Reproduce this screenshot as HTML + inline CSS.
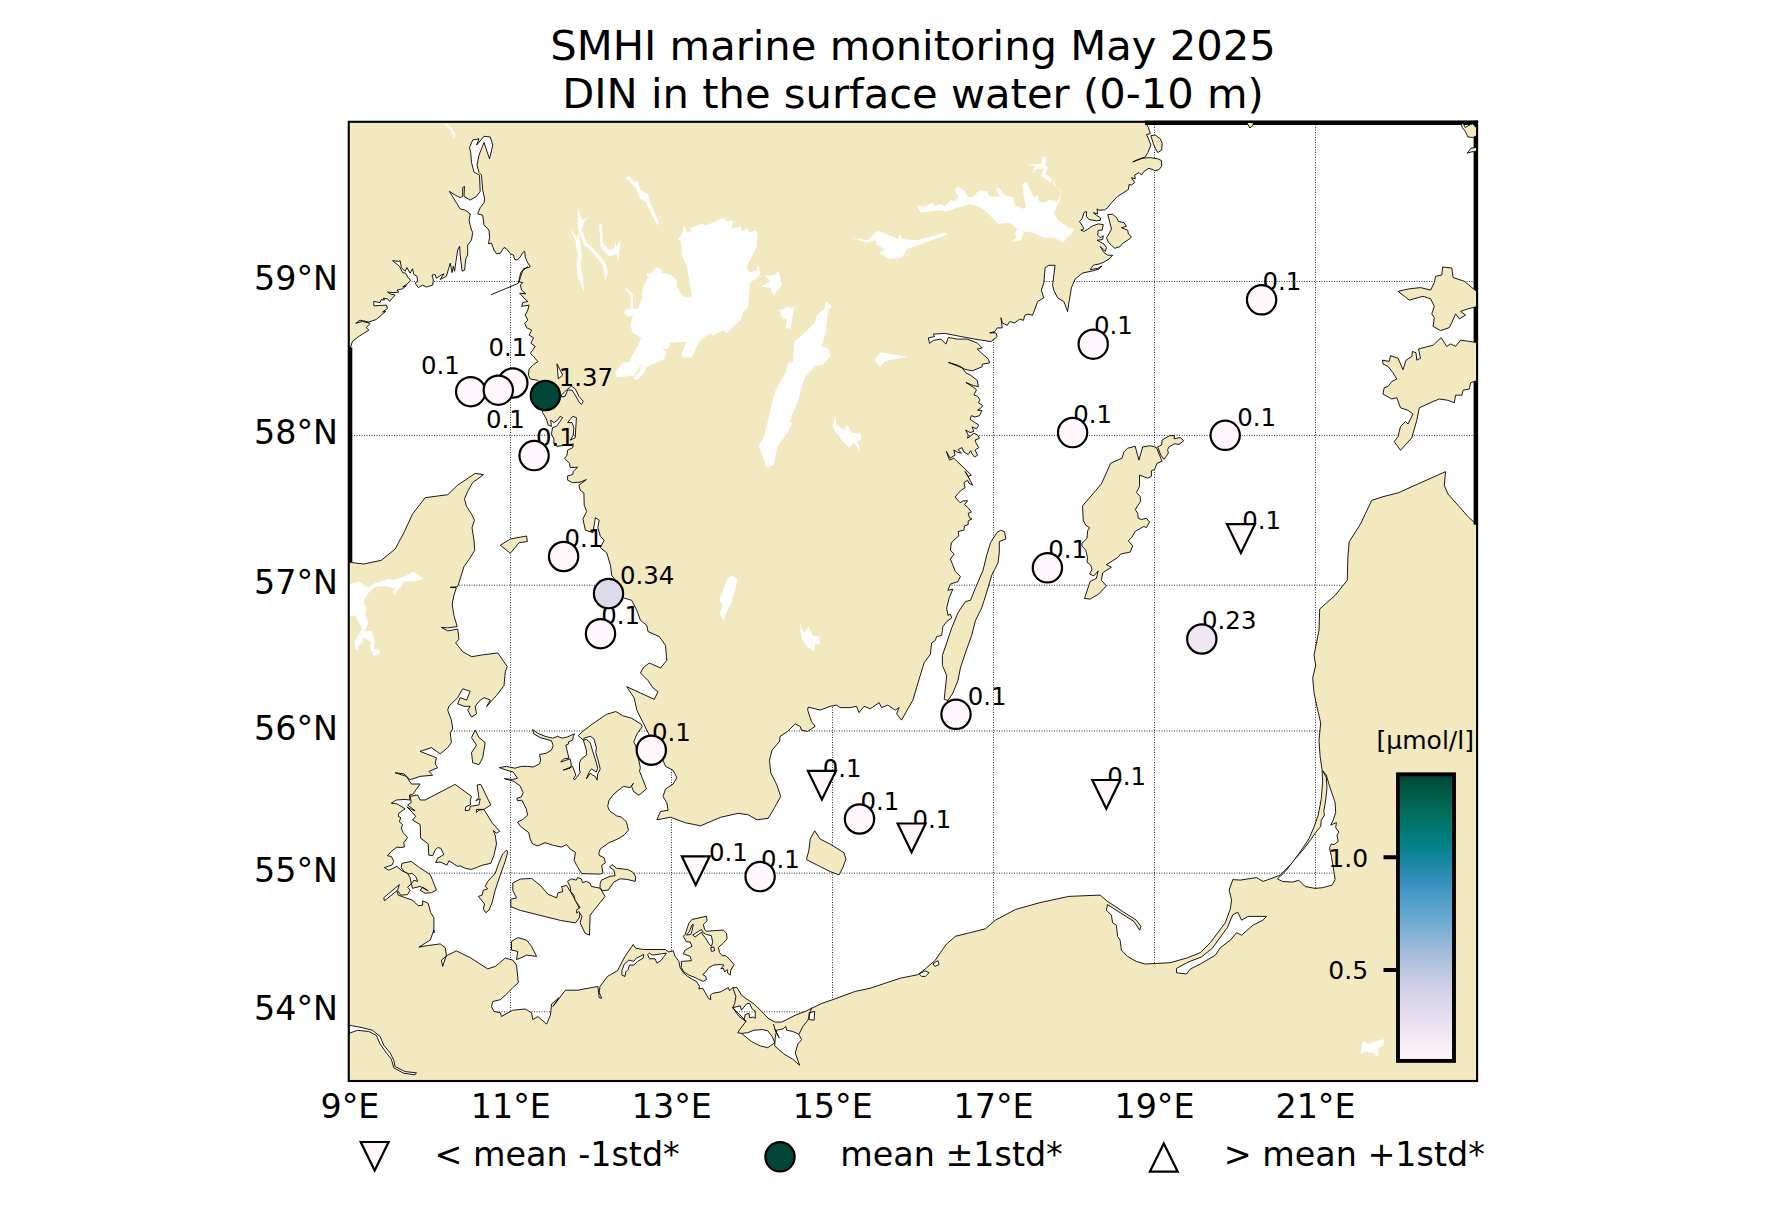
<!DOCTYPE html>
<html><head><meta charset="utf-8"><title>SMHI marine monitoring May 2025 - DIN in the surface water</title>
<style>
html,body{margin:0;padding:0;background:#fff;}
body{width:1773px;height:1227px;position:relative;overflow:hidden;font-family:"DejaVu Sans","Liberation Sans",sans-serif;}
svg text{font-family:"DejaVu Sans","Liberation Sans",sans-serif;fill:#000;}
</style></head><body>
<svg width="1773" height="1227" viewBox="0 0 1773 1227" style="position:absolute;left:0;top:0">
<defs>
<clipPath id="ax"><rect x="347" y="120" width="1131" height="962"/></clipPath>
<clipPath id="seaclip"><path d="M350.6 347.1 L352.5 341.4 L358.8 336.4 L363.8 333.3 L368.8 330.2 L366.3 327.7 L370.1 323.3 L362.5 321.4 L355.7 323.3 L360.0 320.2 L368.8 322.0 L376.3 319.5 L382.6 313.9 L385.7 311.4 L382.6 312.0 L387.6 308.3 L386.3 305.1 L373.8 305.8 L373.8 301.4 L380.1 302.6 L381.3 299.5 L384.5 300.1 L383.2 298.2 L387.6 298.9 L389.5 301.4 L395.1 295.1 L390.1 293.9 L387.6 292.0 L393.8 292.6 L398.8 292.0 L397.0 290.1 L402.6 288.8 L406.4 285.7 L402.6 287.0 L408.2 283.2 L410.7 280.1 L408.2 277.6 L405.7 273.2 L402.6 272.6 L399.5 266.3 L392.6 260.7 L398.8 261.3 L400.1 260.7 L401.4 267.6 L405.1 271.3 L407.0 267.6 L410.1 273.2 L412.6 268.8 L413.9 274.5 L417.0 276.3 L417.6 281.3 L415.1 283.2 L418.3 287.6 L422.6 285.1 L426.4 287.0 L432.7 285.1 L433.3 280.1 L432.0 275.1 L435.2 274.5 L436.4 278.2 L440.2 275.7 L443.9 273.8 L440.2 279.5 L446.4 276.3 L448.9 267.6 L450.2 263.2 L452.1 272.6 L453.3 266.3 L454.6 271.3 L455.8 262.6 L457.7 250.0 L459.6 246.3 L460.2 255.0 L462.1 271.3 L464.6 270.1 L465.8 258.8 L467.7 255.0 L467.7 245.0 L471.5 240.0 L472.7 232.5 L471.5 230.0 L470.2 225.2 L469.0 220.2 L470.2 213.9 L465.2 210.2 L460.2 208.9 L449.4 191.4 L455.2 195.1 L460.2 197.6 L462.7 196.4 L462.7 187.6 L464.5 186.4 L464.0 196.4 L470.2 200.1 L476.5 196.4 L480.2 191.4 L479.5 175.1 L474.0 172.1 L471.5 162.6 L470.7 152.6 L469.5 147.6 L472.7 140.0 L479.0 138.8 L476.5 145.1 L484.0 136.3 L490.3 137.0 L492.8 145.1 L489.5 158.8 L484.0 142.5 L479.0 155.1 L477.0 165.1 L479.0 172.6 L481.5 175.1 L482.7 190.1 L484.7 198.9 L484.0 202.6 L480.2 207.7 L477.7 213.9 L482.7 215.2 L484.0 225.2 L489.0 230.0 L489.6 237.5 L488.4 243.8 L491.5 243.1 L494.0 250.0 L496.5 253.8 L500.3 253.2 L504.0 247.5 L506.5 248.8 L510.3 253.8 L513.4 255.0 L514.7 259.4 L517.2 260.1 L520.3 256.9 L522.8 252.5 L524.7 251.3 L525.3 256.9 L527.2 261.9 L530.3 266.9 L523.4 268.8 L520.3 277.6 L519.1 282.0 L522.8 282.6 L520.3 285.1 L521.6 290.1 L525.9 293.9 L519.7 293.2 L524.1 298.2 L527.8 301.4 L522.8 302.6 L521.6 306.4 L529.1 305.1 L527.8 310.1 L525.3 315.1 L527.8 320.2 L524.7 323.3 L526.6 327.7 L531.6 330.2 L529.1 335.2 L533.5 337.7 L530.9 343.3 L535.3 346.4 L530.3 353.3 L533.5 356.5 L537.8 361.5 L532.8 365.2 L529.1 369.0 L528.4 375.2 L530.3 379.0 L537.6 380.3 L540.1 382.6 L542.6 412.6 L546.4 418.9 L548.2 425.1 L551.4 426.4 L550.7 420.1 L553.9 422.6 L557.6 420.1 L560.1 416.4 L562.6 417.6 L560.1 421.4 L556.4 426.4 L552.6 427.6 L551.4 433.9 L553.9 438.9 L553.9 443.9 L557.0 446.4 L565.1 445.2 L573.3 443.9 L572.7 447.7 L567.6 450.2 L567.0 455.2 L564.5 458.3 L569.5 463.3 L570.2 467.7 L577.7 467.1 L573.3 471.5 L572.7 474.6 L567.6 475.9 L567.6 480.2 L572.7 482.7 L580.2 482.1 L586.4 479.6 L578.9 485.2 L580.2 490.3 L583.9 493.0 L584.2 505.2 L586.7 511.4 L582.9 519.0 L585.4 530.2 L592.9 532.7 L595.4 517.7 L599.2 520.2 L597.9 527.7 L600.4 536.5 L604.2 540.2 L600.4 547.7 L606.7 552.8 L610.5 565.3 L611.7 575.3 L615.5 580.3 L623.0 597.8 L631.7 600.3 L636.8 610.4 L640.5 620.4 L646.8 625.4 L648.0 631.6 L659.3 636.6 L665.5 645.4 L666.8 660.4 L660.5 668.0 L649.3 662.9 L643.0 668.0 L640.5 673.0 L648.0 680.5 L653.0 688.0 L658.0 691.7 L654.3 699.3 L640.5 693.0 L626.7 686.7 L634.2 698.0 L636.8 710.1 L643.0 722.6 L648.0 732.6 L663.0 760.2 L665.5 766.4 L673.1 770.2 L676.8 777.7 L673.1 784.0 L665.5 789.0 L663.0 796.5 L666.8 802.7 L668.1 810.3 L660.5 811.5 L656.8 819.8 L670.6 817.3 L685.6 822.8 L700.6 825.8 L720.6 817.3 L738.2 813.3 L748.2 814.8 L757.0 819.8 L768.2 818.3 L774.5 807.7 L780.7 796.5 L777.0 785.2 L770.7 772.7 L769.5 760.2 L772.0 750.2 L779.5 741.4 L780.1 736.4 L787.6 731.4 L795.2 723.9 L800.2 726.4 L801.4 730.1 L807.7 731.4 L815.2 726.4 L811.4 721.4 L807.7 710.1 L808.2 707.1 L815.2 708.8 L820.2 710.1 L830.2 706.3 L836.5 705.1 L840.2 707.6 L850.3 707.6 L856.5 706.3 L859.0 712.6 L864.0 706.3 L870.3 708.8 L879.1 702.6 L881.6 707.6 L887.8 705.1 L895.3 710.1 L899.1 707.6 L896.6 713.8 L901.6 720.1 L907.9 708.8 L912.9 700.1 L916.6 687.5 L920.4 675.0 L924.1 662.9 L930.4 654.2 L931.6 642.9 L935.4 640.4 L936.6 636.6 L941.7 635.4 L942.9 626.6 L946.7 621.6 L951.7 617.9 L950.4 614.1 L947.9 615.4 L946.7 607.9 L949.2 597.8 L952.9 589.1 L947.9 590.3 L950.4 584.1 L957.9 581.6 L960.4 576.5 L955.4 571.5 L952.9 565.3 L950.4 559.0 L954.2 554.0 L950.4 550.3 L951.3 543.0 L955.1 539.0 L958.8 535.9 L958.2 531.5 L963.9 530.2 L964.5 525.9 L968.2 524.6 L968.2 520.8 L972.0 519.0 L969.5 517.7 L968.2 513.3 L971.4 512.1 L968.2 507.7 L964.5 504.6 L967.6 500.8 L963.2 500.8 L960.1 502.7 L955.1 497.1 L957.6 493.9 L961.4 490.2 L965.1 487.7 L963.9 482.7 L967.6 480.2 L968.9 483.3 L972.6 485.2 L970.1 480.2 L965.1 471.4 L968.2 476.4 L971.4 475.1 L968.2 472.0 L953.8 458.2 L949.5 460.1 L946.3 451.4 L950.1 458.2 L955.1 455.1 L953.8 450.1 L957.0 452.0 L961.4 453.2 L958.2 449.5 L962.0 447.6 L963.9 452.0 L968.2 454.5 L970.7 450.7 L972.0 453.9 L974.5 457.0 L977.6 455.1 L975.1 450.1 L978.9 447.6 L976.4 443.8 L975.1 440.1 L979.5 438.2 L977.6 435.1 L973.9 433.2 L970.1 436.3 L967.6 438.2 L968.2 435.1 L965.7 430.1 L970.1 432.6 L973.9 431.3 L972.0 426.9 L976.4 428.8 L978.9 425.1 L970.1 419.4 L971.4 415.7 L975.1 416.9 L979.5 415.7 L982.0 410.7 L977.6 410.0 L980.1 408.8 L982.6 405.7 L978.3 402.5 L980.1 400.0 L977.6 396.3 L973.9 395.0 L976.4 390.0 L974.7 388.0 L965.9 382.5 L973.4 385.5 L978.4 386.7 L977.2 380.4 L970.9 375.4 L965.9 372.9 L962.1 367.9 L948.4 362.4 L958.4 365.4 L964.6 369.2 L972.2 370.9 L982.2 366.7 L982.2 364.2 L989.7 362.9 L988.4 359.2 L977.2 349.1 L982.2 347.9 L977.2 342.9 L967.1 339.1 L957.1 339.1 L948.4 337.4 L945.9 344.1 L940.9 339.1 L933.3 340.4 L929.6 343.4 L928.3 337.9 L934.6 336.6 L933.3 334.1 L944.6 333.4 L974.7 339.1 L990.9 341.6 L997.2 336.6 L995.9 332.9 L989.7 332.9 L994.7 331.6 L997.2 327.9 L1002.2 327.9 L1001.0 317.8 L1002.2 322.9 L1007.2 325.4 L1009.7 321.6 L1014.7 322.9 L1019.7 319.1 L1023.5 320.3 L1024.7 315.3 L1028.0 314.1 L1032.6 315.3 L1037.6 301.6 L1043.8 297.8 L1041.3 290.3 L1043.8 282.8 L1045.1 267.8 L1048.8 265.3 L1055.1 265.3 L1053.8 275.3 L1052.6 285.3 L1053.8 290.3 L1057.6 297.8 L1063.9 301.6 L1067.6 311.6 L1068.9 302.8 L1071.4 287.8 L1075.1 279.0 L1082.7 273.0 L1092.7 270.9 L1099.0 269.0 L1102.1 265.9 L1097.7 268.4 L1090.2 269.6 L1093.3 265.2 L1099.0 264.0 L1104.0 262.1 L1109.0 259.0 L1112.7 255.2 L1107.7 255.2 L1104.0 252.7 L1100.2 246.5 L1105.2 251.5 L1106.5 247.7 L1104.0 244.0 L1097.1 240.2 L1102.7 239.6 L1103.3 235.8 L1100.2 237.7 L1097.7 235.2 L1098.3 230.2 L1102.1 230.2 L1103.3 224.6 L1098.3 223.9 L1092.7 225.8 L1087.1 229.6 L1083.9 231.4 L1080.8 230.2 L1083.9 228.9 L1082.7 226.4 L1079.5 221.4 L1082.0 218.9 L1083.9 212.7 L1086.4 211.4 L1086.4 216.4 L1088.9 219.5 L1096.4 220.8 L1100.8 220.2 L1100.2 217.7 L1096.4 215.2 L1093.3 212.7 L1097.7 213.9 L1097.1 208.9 L1099.0 210.2 L1104.6 209.9 L1107.7 207.6 L1111.5 202.6 L1117.7 196.4 L1128.4 189.5 L1129.0 184.5 L1131.5 185.1 L1134.6 182.6 L1131.5 177.6 L1135.3 178.8 L1134.6 175.1 L1139.0 172.6 L1141.5 175.1 L1144.0 171.3 L1149.0 168.2 L1155.3 170.7 L1159.1 169.5 L1161.6 166.3 L1161.6 160.7 L1157.8 158.8 L1150.3 157.6 L1142.8 158.2 L1132.8 161.9 L1136.5 160.1 L1145.3 156.9 L1147.8 152.6 L1150.9 145.0 L1149.0 140.0 L1146.5 134.4 L1150.3 133.8 L1148.4 127.5 L1145.3 122.5 L1477.0 122.0 L1477.0 525.0 L1468.1 516.7 L1458.1 505.4 L1448.1 494.2 L1444.3 485.4 L1445.6 471.6 L1398.0 492.9 L1383.0 496.7 L1371.7 500.4 L1360.4 524.2 L1349.2 541.7 L1347.9 557.0 L1347.3 580.2 L1335.3 595.2 L1319.7 609.0 L1319.0 630.3 L1314.0 655.3 L1315.7 665.3 L1312.7 677.8 L1314.0 692.9 L1317.2 707.9 L1320.7 722.9 L1319.0 740.4 L1320.1 756.3 L1322.0 769.4 L1322.6 781.3 L1321.3 798.8 L1318.2 815.1 L1313.8 827.6 L1308.8 838.9 L1301.3 850.2 L1292.5 862.7 L1280.0 875.2 L1270.0 879.0 L1262.9 881.4 L1256.6 877.6 L1240.3 880.1 L1232.8 879.6 L1229.1 890.1 L1231.6 900.1 L1230.3 908.9 L1225.3 922.7 L1217.8 932.7 L1210.3 942.7 L1200.3 952.7 L1187.7 957.7 L1170.2 962.7 L1155.2 963.5 L1145.2 964.0 L1136.4 961.5 L1127.6 956.5 L1121.4 950.2 L1120.1 940.2 L1117.6 936.4 L1116.4 925.2 L1112.6 922.7 L1111.4 915.2 L1106.4 910.2 L1107.6 904.6 L1120.1 912.7 L1133.9 921.4 L1139.7 930.2 L1140.9 926.4 L1136.4 920.2 L1122.6 911.4 L1107.6 901.4 L1100.1 895.1 L1068.8 896.4 L1040.0 902.6 L1015.5 909.5 L995.5 920.1 L985.4 928.8 L970.4 932.6 L955.4 936.3 L946.6 943.9 L940.4 952.6 L935.4 960.1 L925.3 968.9 L917.8 974.7 L900.3 978.2 L870.3 988.2 L855.2 991.4 L832.7 999.7 L822.0 1003.3 L812.9 1007.7 L805.3 1011.4 L795.3 1015.2 L787.8 1019.0 L781.6 1022.1 L775.3 1022.1 L769.0 1019.0 L761.5 1011.4 L754.0 1003.9 L746.5 998.9 L741.5 995.2 L737.1 987.6 L732.7 987.6 L729.6 990.8 L728.3 987.6 L720.2 992.0 L712.7 993.3 L710.2 995.2 L710.8 999.5 L708.9 998.9 L705.2 992.7 L702.7 988.3 L698.9 988.9 L699.5 986.4 L696.4 981.4 L692.7 979.5 L687.6 976.4 L683.3 972.6 L680.1 967.6 L678.9 961.4 L675.1 956.3 L673.2 950.7 L668.9 952.0 L665.1 949.5 L643.8 949.5 L635.7 948.2 L633.2 944.5 L625.0 956.3 L617.5 970.7 L607.5 976.4 L600.0 986.4 L599.2 992.7 L601.7 998.2 L599.2 997.7 L597.9 986.4 L577.9 990.2 L565.4 990.2 L552.9 1006.5 L559.1 997.7 L551.6 1004.0 L550.4 1015.2 L546.6 1024.0 L537.8 1016.5 L532.8 1019.7 L531.6 1012.7 L525.3 1009.0 L512.8 1010.2 L501.5 1016.5 L500.3 1012.7 L494.0 1011.5 L491.5 1006.5 L492.8 1001.5 L500.3 999.7 L505.3 995.2 L512.8 987.7 L518.3 982.7 L516.5 965.1 L512.8 960.1 L505.3 958.1 L495.3 966.4 L487.7 968.9 L470.2 957.6 L456.4 950.9 L447.7 955.1 L441.4 960.1 L442.7 966.4 L446.4 955.1 L445.2 947.6 L440.2 943.9 L427.6 945.6 L418.9 947.1 L430.2 940.1 L433.9 930.1 L433.9 933.0 L433.9 917.7 L430.7 912.7 L428.2 903.3 L422.6 900.8 L422.6 905.2 L418.2 905.8 L412.6 900.2 L398.2 895.2 L396.9 890.8 L384.4 900.8 L383.8 897.7 L399.4 884.6 L397.5 890.2 L400.7 895.2 L407.6 894.6 L410.1 890.2 L407.6 887.1 L411.3 883.9 L410.1 877.7 L407.6 873.3 L401.9 870.8 L396.9 866.4 L388.8 870.2 L384.4 867.6 L391.9 865.1 L393.8 861.4 L391.3 856.4 L387.5 855.8 L390.7 852.0 L396.9 847.0 L400.1 847.6 L404.4 847.0 L403.8 842.6 L407.6 837.6 L403.2 832.6 L401.3 828.2 L402.6 824.5 L399.4 821.9 L400.7 817.6 L398.2 816.3 L398.8 813.2 L405.1 808.8 L396.9 803.8 L391.3 803.2 L396.3 800.0 L405.1 799.4 L410.1 800.0 L409.4 795.0 L412.6 794.4 L414.5 791.9 L420.1 784.0 L411.4 784.0 L406.4 776.4 L395.1 772.7 L403.9 773.9 L410.1 779.7 L420.1 776.4 L432.7 775.2 L428.9 771.4 L437.7 767.7 L435.2 763.9 L436.4 757.7 L426.4 753.9 L420.1 751.4 L431.4 747.6 L440.2 753.9 L447.7 747.6 L451.4 742.6 L450.2 732.6 L452.7 728.9 L451.4 720.1 L447.7 710.1 L448.9 706.3 L457.7 697.6 L462.7 688.8 L470.2 691.3 L466.5 700.1 L460.2 697.6 L457.7 703.8 L464.0 706.3 L470.2 706.3 L467.7 710.1 L471.5 717.1 L476.5 713.8 L475.2 706.3 L479.0 701.3 L484.0 697.6 L490.3 700.1 L486.5 706.6 L496.5 695.5 L504.0 685.5 L505.3 671.7 L507.3 666.7 L497.8 652.9 L482.7 654.9 L471.5 656.7 L462.7 651.7 L455.7 642.9 L459.0 639.2 L457.7 629.1 L447.7 630.9 L441.4 627.4 L447.7 627.9 L457.2 626.6 L453.9 615.4 L452.2 604.1 L453.9 595.3 L456.4 587.8 L450.2 587.3 L457.7 586.6 L464.0 566.5 L470.2 557.8 L474.7 550.3 L474.0 540.2 L472.0 527.7 L474.5 520.2 L471.5 513.9 L466.5 506.4 L464.5 498.9 L467.7 491.4 L472.7 482.6 L483.5 474.6 L475.2 473.4 L457.7 485.1 L447.7 494.7 L425.1 497.7 L412.6 513.9 L403.9 532.7 L395.1 549.0 L381.3 560.3 L363.8 564.0 L349.5 562.3Z"/>
<path d="M349.0 1025.2 L362.5 1027.7 L372.6 1030.3 L380.1 1036.5 L383.8 1045.3 L390.1 1052.8 L393.8 1060.3 L395.1 1066.6 L405.1 1071.6 L416.4 1072.8 L415.1 1074.8 L403.9 1073.3 L393.8 1067.8 L391.3 1059.1 L386.3 1052.8 L380.1 1044.0 L376.3 1035.3 L368.8 1031.5 L357.5 1030.3 L349.0 1033.3Z"/>
<path d="M919.1 973.9 L925.3 970.9 L929.1 972.7 L925.3 976.4 L921.6 976.4Z"/>
<path d="M932.9 963.9 L937.9 960.6 L939.1 964.6 L934.9 966.4Z"/>
<path d="M1176.5 968.3 L1189.0 961.7 L1201.5 957.0 L1212.3 948.2 L1227.3 927.7 L1232.8 914.7 L1237.8 912.2 L1241.6 920.2 L1247.9 916.4 L1266.6 916.4 L1262.9 920.2 L1252.9 925.2 L1241.6 935.2 L1236.6 932.7 L1230.3 940.2 L1220.3 947.7 L1215.3 955.2 L1200.3 964.0 L1190.3 969.0 L1186.5 974.0 L1176.5 972.8Z"/>
<path d="M1322.6 770.7 L1326.3 775.1 L1328.8 783.8 L1335.1 802.6 L1335.7 812.6 L1333.2 820.1 L1330.7 825.1 L1336.4 822.6 L1335.7 827.6 L1338.9 832.0 L1337.0 835.2 L1338.2 841.4 L1333.9 844.6 L1331.4 843.9 L1329.5 847.7 L1331.4 856.4 L1333.9 871.5 L1335.1 879.6 L1332.0 885.2 L1322.6 887.7 L1315.1 888.4 L1305.1 886.5 L1298.8 880.2 L1292.5 882.1 L1282.5 881.5 L1277.5 879.0 L1286.3 870.2 L1295.0 859.0 L1303.8 848.9 L1311.3 838.9 L1315.1 833.3 L1320.7 826.4 L1321.3 820.1 L1324.5 815.1 L1323.8 811.4 L1325.7 800.1 L1327.0 787.6 L1326.3 777.6Z"/>
<path d="M561.4 395.1 L566.4 390.1 L571.4 386.3 L575.2 388.8 L578.9 396.3 L583.3 401.4 L581.4 404.5 L579.5 402.6 L575.2 395.1 L572.0 390.1 L567.6 390.1 L565.1 396.3 L561.4 397.0Z"/>
<path d="M557.0 363.8 L562.6 375.1 L558.3 378.8Z"/>
<path d="M572.7 416.4 L576.4 417.6 L575.8 427.6 L575.2 437.7 L570.2 440.2 L573.3 435.2 L573.9 427.6 L572.0 422.6 L567.6 422.6Z"/>
<path d="M621.9 970.7 L624.4 963.9 L628.8 960.1 L633.8 961.4 L636.3 958.2 L643.8 954.5 L643.2 958.2 L637.6 961.4 L633.8 965.1 L629.4 965.1 L628.2 969.5 L625.7 972.0 L625.0 976.4 L621.9 975.1Z"/>
<path d="M647.6 954.5 L649.5 953.2 L652.6 955.1 L661.4 953.8 L666.4 953.2 L661.4 960.1 L657.0 963.2 L655.1 958.8 L649.5 958.8Z"/>
<path d="M732.7 1007.7 L740.2 1005.8 L741.5 1010.2 L746.5 1003.9 L749.6 1003.3 L752.1 1008.9 L755.3 1011.4 L755.3 1018.3 L753.4 1017.1 L749.6 1017.7 L749.0 1013.3 L745.2 1014.6 L744.0 1019.0 L745.9 1021.5 L742.7 1017.7Z"/>
<path d="M741.5 1033.4 L747.7 1032.7 L754.0 1030.2 L762.8 1029.6 L767.8 1030.8 L772.2 1036.5 L774.7 1042.7 L767.8 1047.7 L760.3 1045.9 L751.5 1041.5Z"/>
<path d="M776.5 1030.2 L782.8 1029.0 L785.9 1026.5 L786.6 1030.2 L792.8 1031.5 L798.5 1034.0 L801.6 1039.6 L797.8 1044.0 L795.3 1053.0 L799.6 1065.3 L792.6 1059.1 L783.9 1054.0 L774.7 1045.9 L775.3 1037.7Z"/>
<path d="M809.1 1012.7 L814.7 1011.4 L814.1 1020.2 L809.1 1019.6Z"/>
</clipPath>
<linearGradient id="cb" x1="0" y1="1" x2="0" y2="0">
<stop offset="0.0000" stop-color="#fff7fb"/>
<stop offset="0.1250" stop-color="#ece2f0"/>
<stop offset="0.2500" stop-color="#d0d1e6"/>
<stop offset="0.3750" stop-color="#a6bddb"/>
<stop offset="0.5000" stop-color="#67a9cf"/>
<stop offset="0.6250" stop-color="#3690c0"/>
<stop offset="0.7500" stop-color="#02818a"/>
<stop offset="0.8750" stop-color="#016c59"/>
<stop offset="1.0000" stop-color="#014636"/>
</linearGradient>
</defs>
<rect x="349" y="122" width="1128" height="959" fill="#f3e9c1"/>
<g clip-path="url(#ax)">
<path d="M350.6 347.1 L352.5 341.4 L358.8 336.4 L363.8 333.3 L368.8 330.2 L366.3 327.7 L370.1 323.3 L362.5 321.4 L355.7 323.3 L360.0 320.2 L368.8 322.0 L376.3 319.5 L382.6 313.9 L385.7 311.4 L382.6 312.0 L387.6 308.3 L386.3 305.1 L373.8 305.8 L373.8 301.4 L380.1 302.6 L381.3 299.5 L384.5 300.1 L383.2 298.2 L387.6 298.9 L389.5 301.4 L395.1 295.1 L390.1 293.9 L387.6 292.0 L393.8 292.6 L398.8 292.0 L397.0 290.1 L402.6 288.8 L406.4 285.7 L402.6 287.0 L408.2 283.2 L410.7 280.1 L408.2 277.6 L405.7 273.2 L402.6 272.6 L399.5 266.3 L392.6 260.7 L398.8 261.3 L400.1 260.7 L401.4 267.6 L405.1 271.3 L407.0 267.6 L410.1 273.2 L412.6 268.8 L413.9 274.5 L417.0 276.3 L417.6 281.3 L415.1 283.2 L418.3 287.6 L422.6 285.1 L426.4 287.0 L432.7 285.1 L433.3 280.1 L432.0 275.1 L435.2 274.5 L436.4 278.2 L440.2 275.7 L443.9 273.8 L440.2 279.5 L446.4 276.3 L448.9 267.6 L450.2 263.2 L452.1 272.6 L453.3 266.3 L454.6 271.3 L455.8 262.6 L457.7 250.0 L459.6 246.3 L460.2 255.0 L462.1 271.3 L464.6 270.1 L465.8 258.8 L467.7 255.0 L467.7 245.0 L471.5 240.0 L472.7 232.5 L471.5 230.0 L470.2 225.2 L469.0 220.2 L470.2 213.9 L465.2 210.2 L460.2 208.9 L449.4 191.4 L455.2 195.1 L460.2 197.6 L462.7 196.4 L462.7 187.6 L464.5 186.4 L464.0 196.4 L470.2 200.1 L476.5 196.4 L480.2 191.4 L479.5 175.1 L474.0 172.1 L471.5 162.6 L470.7 152.6 L469.5 147.6 L472.7 140.0 L479.0 138.8 L476.5 145.1 L484.0 136.3 L490.3 137.0 L492.8 145.1 L489.5 158.8 L484.0 142.5 L479.0 155.1 L477.0 165.1 L479.0 172.6 L481.5 175.1 L482.7 190.1 L484.7 198.9 L484.0 202.6 L480.2 207.7 L477.7 213.9 L482.7 215.2 L484.0 225.2 L489.0 230.0 L489.6 237.5 L488.4 243.8 L491.5 243.1 L494.0 250.0 L496.5 253.8 L500.3 253.2 L504.0 247.5 L506.5 248.8 L510.3 253.8 L513.4 255.0 L514.7 259.4 L517.2 260.1 L520.3 256.9 L522.8 252.5 L524.7 251.3 L525.3 256.9 L527.2 261.9 L530.3 266.9 L523.4 268.8 L520.3 277.6 L519.1 282.0 L522.8 282.6 L520.3 285.1 L521.6 290.1 L525.9 293.9 L519.7 293.2 L524.1 298.2 L527.8 301.4 L522.8 302.6 L521.6 306.4 L529.1 305.1 L527.8 310.1 L525.3 315.1 L527.8 320.2 L524.7 323.3 L526.6 327.7 L531.6 330.2 L529.1 335.2 L533.5 337.7 L530.9 343.3 L535.3 346.4 L530.3 353.3 L533.5 356.5 L537.8 361.5 L532.8 365.2 L529.1 369.0 L528.4 375.2 L530.3 379.0 L537.6 380.3 L540.1 382.6 L542.6 412.6 L546.4 418.9 L548.2 425.1 L551.4 426.4 L550.7 420.1 L553.9 422.6 L557.6 420.1 L560.1 416.4 L562.6 417.6 L560.1 421.4 L556.4 426.4 L552.6 427.6 L551.4 433.9 L553.9 438.9 L553.9 443.9 L557.0 446.4 L565.1 445.2 L573.3 443.9 L572.7 447.7 L567.6 450.2 L567.0 455.2 L564.5 458.3 L569.5 463.3 L570.2 467.7 L577.7 467.1 L573.3 471.5 L572.7 474.6 L567.6 475.9 L567.6 480.2 L572.7 482.7 L580.2 482.1 L586.4 479.6 L578.9 485.2 L580.2 490.3 L583.9 493.0 L584.2 505.2 L586.7 511.4 L582.9 519.0 L585.4 530.2 L592.9 532.7 L595.4 517.7 L599.2 520.2 L597.9 527.7 L600.4 536.5 L604.2 540.2 L600.4 547.7 L606.7 552.8 L610.5 565.3 L611.7 575.3 L615.5 580.3 L623.0 597.8 L631.7 600.3 L636.8 610.4 L640.5 620.4 L646.8 625.4 L648.0 631.6 L659.3 636.6 L665.5 645.4 L666.8 660.4 L660.5 668.0 L649.3 662.9 L643.0 668.0 L640.5 673.0 L648.0 680.5 L653.0 688.0 L658.0 691.7 L654.3 699.3 L640.5 693.0 L626.7 686.7 L634.2 698.0 L636.8 710.1 L643.0 722.6 L648.0 732.6 L663.0 760.2 L665.5 766.4 L673.1 770.2 L676.8 777.7 L673.1 784.0 L665.5 789.0 L663.0 796.5 L666.8 802.7 L668.1 810.3 L660.5 811.5 L656.8 819.8 L670.6 817.3 L685.6 822.8 L700.6 825.8 L720.6 817.3 L738.2 813.3 L748.2 814.8 L757.0 819.8 L768.2 818.3 L774.5 807.7 L780.7 796.5 L777.0 785.2 L770.7 772.7 L769.5 760.2 L772.0 750.2 L779.5 741.4 L780.1 736.4 L787.6 731.4 L795.2 723.9 L800.2 726.4 L801.4 730.1 L807.7 731.4 L815.2 726.4 L811.4 721.4 L807.7 710.1 L808.2 707.1 L815.2 708.8 L820.2 710.1 L830.2 706.3 L836.5 705.1 L840.2 707.6 L850.3 707.6 L856.5 706.3 L859.0 712.6 L864.0 706.3 L870.3 708.8 L879.1 702.6 L881.6 707.6 L887.8 705.1 L895.3 710.1 L899.1 707.6 L896.6 713.8 L901.6 720.1 L907.9 708.8 L912.9 700.1 L916.6 687.5 L920.4 675.0 L924.1 662.9 L930.4 654.2 L931.6 642.9 L935.4 640.4 L936.6 636.6 L941.7 635.4 L942.9 626.6 L946.7 621.6 L951.7 617.9 L950.4 614.1 L947.9 615.4 L946.7 607.9 L949.2 597.8 L952.9 589.1 L947.9 590.3 L950.4 584.1 L957.9 581.6 L960.4 576.5 L955.4 571.5 L952.9 565.3 L950.4 559.0 L954.2 554.0 L950.4 550.3 L951.3 543.0 L955.1 539.0 L958.8 535.9 L958.2 531.5 L963.9 530.2 L964.5 525.9 L968.2 524.6 L968.2 520.8 L972.0 519.0 L969.5 517.7 L968.2 513.3 L971.4 512.1 L968.2 507.7 L964.5 504.6 L967.6 500.8 L963.2 500.8 L960.1 502.7 L955.1 497.1 L957.6 493.9 L961.4 490.2 L965.1 487.7 L963.9 482.7 L967.6 480.2 L968.9 483.3 L972.6 485.2 L970.1 480.2 L965.1 471.4 L968.2 476.4 L971.4 475.1 L968.2 472.0 L953.8 458.2 L949.5 460.1 L946.3 451.4 L950.1 458.2 L955.1 455.1 L953.8 450.1 L957.0 452.0 L961.4 453.2 L958.2 449.5 L962.0 447.6 L963.9 452.0 L968.2 454.5 L970.7 450.7 L972.0 453.9 L974.5 457.0 L977.6 455.1 L975.1 450.1 L978.9 447.6 L976.4 443.8 L975.1 440.1 L979.5 438.2 L977.6 435.1 L973.9 433.2 L970.1 436.3 L967.6 438.2 L968.2 435.1 L965.7 430.1 L970.1 432.6 L973.9 431.3 L972.0 426.9 L976.4 428.8 L978.9 425.1 L970.1 419.4 L971.4 415.7 L975.1 416.9 L979.5 415.7 L982.0 410.7 L977.6 410.0 L980.1 408.8 L982.6 405.7 L978.3 402.5 L980.1 400.0 L977.6 396.3 L973.9 395.0 L976.4 390.0 L974.7 388.0 L965.9 382.5 L973.4 385.5 L978.4 386.7 L977.2 380.4 L970.9 375.4 L965.9 372.9 L962.1 367.9 L948.4 362.4 L958.4 365.4 L964.6 369.2 L972.2 370.9 L982.2 366.7 L982.2 364.2 L989.7 362.9 L988.4 359.2 L977.2 349.1 L982.2 347.9 L977.2 342.9 L967.1 339.1 L957.1 339.1 L948.4 337.4 L945.9 344.1 L940.9 339.1 L933.3 340.4 L929.6 343.4 L928.3 337.9 L934.6 336.6 L933.3 334.1 L944.6 333.4 L974.7 339.1 L990.9 341.6 L997.2 336.6 L995.9 332.9 L989.7 332.9 L994.7 331.6 L997.2 327.9 L1002.2 327.9 L1001.0 317.8 L1002.2 322.9 L1007.2 325.4 L1009.7 321.6 L1014.7 322.9 L1019.7 319.1 L1023.5 320.3 L1024.7 315.3 L1028.0 314.1 L1032.6 315.3 L1037.6 301.6 L1043.8 297.8 L1041.3 290.3 L1043.8 282.8 L1045.1 267.8 L1048.8 265.3 L1055.1 265.3 L1053.8 275.3 L1052.6 285.3 L1053.8 290.3 L1057.6 297.8 L1063.9 301.6 L1067.6 311.6 L1068.9 302.8 L1071.4 287.8 L1075.1 279.0 L1082.7 273.0 L1092.7 270.9 L1099.0 269.0 L1102.1 265.9 L1097.7 268.4 L1090.2 269.6 L1093.3 265.2 L1099.0 264.0 L1104.0 262.1 L1109.0 259.0 L1112.7 255.2 L1107.7 255.2 L1104.0 252.7 L1100.2 246.5 L1105.2 251.5 L1106.5 247.7 L1104.0 244.0 L1097.1 240.2 L1102.7 239.6 L1103.3 235.8 L1100.2 237.7 L1097.7 235.2 L1098.3 230.2 L1102.1 230.2 L1103.3 224.6 L1098.3 223.9 L1092.7 225.8 L1087.1 229.6 L1083.9 231.4 L1080.8 230.2 L1083.9 228.9 L1082.7 226.4 L1079.5 221.4 L1082.0 218.9 L1083.9 212.7 L1086.4 211.4 L1086.4 216.4 L1088.9 219.5 L1096.4 220.8 L1100.8 220.2 L1100.2 217.7 L1096.4 215.2 L1093.3 212.7 L1097.7 213.9 L1097.1 208.9 L1099.0 210.2 L1104.6 209.9 L1107.7 207.6 L1111.5 202.6 L1117.7 196.4 L1128.4 189.5 L1129.0 184.5 L1131.5 185.1 L1134.6 182.6 L1131.5 177.6 L1135.3 178.8 L1134.6 175.1 L1139.0 172.6 L1141.5 175.1 L1144.0 171.3 L1149.0 168.2 L1155.3 170.7 L1159.1 169.5 L1161.6 166.3 L1161.6 160.7 L1157.8 158.8 L1150.3 157.6 L1142.8 158.2 L1132.8 161.9 L1136.5 160.1 L1145.3 156.9 L1147.8 152.6 L1150.9 145.0 L1149.0 140.0 L1146.5 134.4 L1150.3 133.8 L1148.4 127.5 L1145.3 122.5 L1477.0 122.0 L1477.0 525.0 L1468.1 516.7 L1458.1 505.4 L1448.1 494.2 L1444.3 485.4 L1445.6 471.6 L1398.0 492.9 L1383.0 496.7 L1371.7 500.4 L1360.4 524.2 L1349.2 541.7 L1347.9 557.0 L1347.3 580.2 L1335.3 595.2 L1319.7 609.0 L1319.0 630.3 L1314.0 655.3 L1315.7 665.3 L1312.7 677.8 L1314.0 692.9 L1317.2 707.9 L1320.7 722.9 L1319.0 740.4 L1320.1 756.3 L1322.0 769.4 L1322.6 781.3 L1321.3 798.8 L1318.2 815.1 L1313.8 827.6 L1308.8 838.9 L1301.3 850.2 L1292.5 862.7 L1280.0 875.2 L1270.0 879.0 L1262.9 881.4 L1256.6 877.6 L1240.3 880.1 L1232.8 879.6 L1229.1 890.1 L1231.6 900.1 L1230.3 908.9 L1225.3 922.7 L1217.8 932.7 L1210.3 942.7 L1200.3 952.7 L1187.7 957.7 L1170.2 962.7 L1155.2 963.5 L1145.2 964.0 L1136.4 961.5 L1127.6 956.5 L1121.4 950.2 L1120.1 940.2 L1117.6 936.4 L1116.4 925.2 L1112.6 922.7 L1111.4 915.2 L1106.4 910.2 L1107.6 904.6 L1120.1 912.7 L1133.9 921.4 L1139.7 930.2 L1140.9 926.4 L1136.4 920.2 L1122.6 911.4 L1107.6 901.4 L1100.1 895.1 L1068.8 896.4 L1040.0 902.6 L1015.5 909.5 L995.5 920.1 L985.4 928.8 L970.4 932.6 L955.4 936.3 L946.6 943.9 L940.4 952.6 L935.4 960.1 L925.3 968.9 L917.8 974.7 L900.3 978.2 L870.3 988.2 L855.2 991.4 L832.7 999.7 L822.0 1003.3 L812.9 1007.7 L805.3 1011.4 L795.3 1015.2 L787.8 1019.0 L781.6 1022.1 L775.3 1022.1 L769.0 1019.0 L761.5 1011.4 L754.0 1003.9 L746.5 998.9 L741.5 995.2 L737.1 987.6 L732.7 987.6 L729.6 990.8 L728.3 987.6 L720.2 992.0 L712.7 993.3 L710.2 995.2 L710.8 999.5 L708.9 998.9 L705.2 992.7 L702.7 988.3 L698.9 988.9 L699.5 986.4 L696.4 981.4 L692.7 979.5 L687.6 976.4 L683.3 972.6 L680.1 967.6 L678.9 961.4 L675.1 956.3 L673.2 950.7 L668.9 952.0 L665.1 949.5 L643.8 949.5 L635.7 948.2 L633.2 944.5 L625.0 956.3 L617.5 970.7 L607.5 976.4 L600.0 986.4 L599.2 992.7 L601.7 998.2 L599.2 997.7 L597.9 986.4 L577.9 990.2 L565.4 990.2 L552.9 1006.5 L559.1 997.7 L551.6 1004.0 L550.4 1015.2 L546.6 1024.0 L537.8 1016.5 L532.8 1019.7 L531.6 1012.7 L525.3 1009.0 L512.8 1010.2 L501.5 1016.5 L500.3 1012.7 L494.0 1011.5 L491.5 1006.5 L492.8 1001.5 L500.3 999.7 L505.3 995.2 L512.8 987.7 L518.3 982.7 L516.5 965.1 L512.8 960.1 L505.3 958.1 L495.3 966.4 L487.7 968.9 L470.2 957.6 L456.4 950.9 L447.7 955.1 L441.4 960.1 L442.7 966.4 L446.4 955.1 L445.2 947.6 L440.2 943.9 L427.6 945.6 L418.9 947.1 L430.2 940.1 L433.9 930.1 L433.9 933.0 L433.9 917.7 L430.7 912.7 L428.2 903.3 L422.6 900.8 L422.6 905.2 L418.2 905.8 L412.6 900.2 L398.2 895.2 L396.9 890.8 L384.4 900.8 L383.8 897.7 L399.4 884.6 L397.5 890.2 L400.7 895.2 L407.6 894.6 L410.1 890.2 L407.6 887.1 L411.3 883.9 L410.1 877.7 L407.6 873.3 L401.9 870.8 L396.9 866.4 L388.8 870.2 L384.4 867.6 L391.9 865.1 L393.8 861.4 L391.3 856.4 L387.5 855.8 L390.7 852.0 L396.9 847.0 L400.1 847.6 L404.4 847.0 L403.8 842.6 L407.6 837.6 L403.2 832.6 L401.3 828.2 L402.6 824.5 L399.4 821.9 L400.7 817.6 L398.2 816.3 L398.8 813.2 L405.1 808.8 L396.9 803.8 L391.3 803.2 L396.3 800.0 L405.1 799.4 L410.1 800.0 L409.4 795.0 L412.6 794.4 L414.5 791.9 L420.1 784.0 L411.4 784.0 L406.4 776.4 L395.1 772.7 L403.9 773.9 L410.1 779.7 L420.1 776.4 L432.7 775.2 L428.9 771.4 L437.7 767.7 L435.2 763.9 L436.4 757.7 L426.4 753.9 L420.1 751.4 L431.4 747.6 L440.2 753.9 L447.7 747.6 L451.4 742.6 L450.2 732.6 L452.7 728.9 L451.4 720.1 L447.7 710.1 L448.9 706.3 L457.7 697.6 L462.7 688.8 L470.2 691.3 L466.5 700.1 L460.2 697.6 L457.7 703.8 L464.0 706.3 L470.2 706.3 L467.7 710.1 L471.5 717.1 L476.5 713.8 L475.2 706.3 L479.0 701.3 L484.0 697.6 L490.3 700.1 L486.5 706.6 L496.5 695.5 L504.0 685.5 L505.3 671.7 L507.3 666.7 L497.8 652.9 L482.7 654.9 L471.5 656.7 L462.7 651.7 L455.7 642.9 L459.0 639.2 L457.7 629.1 L447.7 630.9 L441.4 627.4 L447.7 627.9 L457.2 626.6 L453.9 615.4 L452.2 604.1 L453.9 595.3 L456.4 587.8 L450.2 587.3 L457.7 586.6 L464.0 566.5 L470.2 557.8 L474.7 550.3 L474.0 540.2 L472.0 527.7 L474.5 520.2 L471.5 513.9 L466.5 506.4 L464.5 498.9 L467.7 491.4 L472.7 482.6 L483.5 474.6 L475.2 473.4 L457.7 485.1 L447.7 494.7 L425.1 497.7 L412.6 513.9 L403.9 532.7 L395.1 549.0 L381.3 560.3 L363.8 564.0 L349.5 562.3Z" fill="#fff" stroke="#000" stroke-width="0.9" stroke-linejoin="round"/>
<path d="M349.0 1025.2 L362.5 1027.7 L372.6 1030.3 L380.1 1036.5 L383.8 1045.3 L390.1 1052.8 L393.8 1060.3 L395.1 1066.6 L405.1 1071.6 L416.4 1072.8 L415.1 1074.8 L403.9 1073.3 L393.8 1067.8 L391.3 1059.1 L386.3 1052.8 L380.1 1044.0 L376.3 1035.3 L368.8 1031.5 L357.5 1030.3 L349.0 1033.3Z" fill="#fff" stroke="#000" stroke-width="0.9" stroke-linejoin="round"/>
<path d="M919.1 973.9 L925.3 970.9 L929.1 972.7 L925.3 976.4 L921.6 976.4Z" fill="#fff" stroke="#000" stroke-width="0.9" stroke-linejoin="round"/>
<path d="M932.9 963.9 L937.9 960.6 L939.1 964.6 L934.9 966.4Z" fill="#fff" stroke="#000" stroke-width="0.9" stroke-linejoin="round"/>
<path d="M1176.5 968.3 L1189.0 961.7 L1201.5 957.0 L1212.3 948.2 L1227.3 927.7 L1232.8 914.7 L1237.8 912.2 L1241.6 920.2 L1247.9 916.4 L1266.6 916.4 L1262.9 920.2 L1252.9 925.2 L1241.6 935.2 L1236.6 932.7 L1230.3 940.2 L1220.3 947.7 L1215.3 955.2 L1200.3 964.0 L1190.3 969.0 L1186.5 974.0 L1176.5 972.8Z" fill="#fff" stroke="#000" stroke-width="0.9" stroke-linejoin="round"/>
<path d="M1322.6 770.7 L1326.3 775.1 L1328.8 783.8 L1335.1 802.6 L1335.7 812.6 L1333.2 820.1 L1330.7 825.1 L1336.4 822.6 L1335.7 827.6 L1338.9 832.0 L1337.0 835.2 L1338.2 841.4 L1333.9 844.6 L1331.4 843.9 L1329.5 847.7 L1331.4 856.4 L1333.9 871.5 L1335.1 879.6 L1332.0 885.2 L1322.6 887.7 L1315.1 888.4 L1305.1 886.5 L1298.8 880.2 L1292.5 882.1 L1282.5 881.5 L1277.5 879.0 L1286.3 870.2 L1295.0 859.0 L1303.8 848.9 L1311.3 838.9 L1315.1 833.3 L1320.7 826.4 L1321.3 820.1 L1324.5 815.1 L1323.8 811.4 L1325.7 800.1 L1327.0 787.6 L1326.3 777.6Z" fill="#fff" stroke="#000" stroke-width="0.9" stroke-linejoin="round"/>
<path d="M561.4 395.1 L566.4 390.1 L571.4 386.3 L575.2 388.8 L578.9 396.3 L583.3 401.4 L581.4 404.5 L579.5 402.6 L575.2 395.1 L572.0 390.1 L567.6 390.1 L565.1 396.3 L561.4 397.0Z" fill="#fff" stroke="#000" stroke-width="0.9" stroke-linejoin="round"/>
<path d="M557.0 363.8 L562.6 375.1 L558.3 378.8Z" fill="#fff" stroke="#000" stroke-width="0.9" stroke-linejoin="round"/>
<path d="M572.7 416.4 L576.4 417.6 L575.8 427.6 L575.2 437.7 L570.2 440.2 L573.3 435.2 L573.9 427.6 L572.0 422.6 L567.6 422.6Z" fill="#fff" stroke="#000" stroke-width="0.9" stroke-linejoin="round"/>
<path d="M621.9 970.7 L624.4 963.9 L628.8 960.1 L633.8 961.4 L636.3 958.2 L643.8 954.5 L643.2 958.2 L637.6 961.4 L633.8 965.1 L629.4 965.1 L628.2 969.5 L625.7 972.0 L625.0 976.4 L621.9 975.1Z" fill="#fff" stroke="#000" stroke-width="0.9" stroke-linejoin="round"/>
<path d="M647.6 954.5 L649.5 953.2 L652.6 955.1 L661.4 953.8 L666.4 953.2 L661.4 960.1 L657.0 963.2 L655.1 958.8 L649.5 958.8Z" fill="#fff" stroke="#000" stroke-width="0.9" stroke-linejoin="round"/>
<path d="M732.7 1007.7 L740.2 1005.8 L741.5 1010.2 L746.5 1003.9 L749.6 1003.3 L752.1 1008.9 L755.3 1011.4 L755.3 1018.3 L753.4 1017.1 L749.6 1017.7 L749.0 1013.3 L745.2 1014.6 L744.0 1019.0 L745.9 1021.5 L742.7 1017.7Z" fill="#fff" stroke="#000" stroke-width="0.9" stroke-linejoin="round"/>
<path d="M741.5 1033.4 L747.7 1032.7 L754.0 1030.2 L762.8 1029.6 L767.8 1030.8 L772.2 1036.5 L774.7 1042.7 L767.8 1047.7 L760.3 1045.9 L751.5 1041.5Z" fill="#fff" stroke="#000" stroke-width="0.9" stroke-linejoin="round"/>
<path d="M776.5 1030.2 L782.8 1029.0 L785.9 1026.5 L786.6 1030.2 L792.8 1031.5 L798.5 1034.0 L801.6 1039.6 L797.8 1044.0 L795.3 1053.0 L799.6 1065.3 L792.6 1059.1 L783.9 1054.0 L774.7 1045.9 L775.3 1037.7Z" fill="#fff" stroke="#000" stroke-width="0.9" stroke-linejoin="round"/>
<path d="M809.1 1012.7 L814.7 1011.4 L814.1 1020.2 L809.1 1019.6Z" fill="#fff" stroke="#000" stroke-width="0.9" stroke-linejoin="round"/>
<g clip-path="url(#seaclip)" stroke="#000" stroke-width="1" stroke-dasharray="1 1.5" stroke-opacity="0.8" fill="none">
<path d="M510.5 122V1081"/>
<path d="M671.5 122V1081"/>
<path d="M832.5 122V1081"/>
<path d="M993.5 122V1081"/>
<path d="M1154.5 122V1081"/>
<path d="M1315.5 122V1081"/>
<path d="M349 281.5H1477"/>
<path d="M349 435.4H1477"/>
<path d="M349 585.2H1477"/>
<path d="M349 731.0H1477"/>
<path d="M349 873.15H1477"/>
<path d="M349 1011.8H1477"/>
</g>
<g fill="#000"><rect x="1145" y="120.6" width="333" height="4.4"/><rect x="1473.6" y="120.6" width="4.4" height="404"/><rect x="348" y="347.5" width="4.3" height="214.5"/></g>
<path d="M1107.7 214.5 L1112.7 214.2 L1117.1 218.3 L1118.4 221.4 L1124.0 222.7 L1126.5 226.4 L1121.5 227.7 L1127.7 230.2 L1128.4 233.9 L1131.5 237.1 L1127.7 240.2 L1122.7 243.3 L1120.2 246.5 L1114.6 248.3 L1111.5 245.2 L1108.3 242.1 L1106.5 237.7 L1109.0 233.9 L1111.5 228.9 L1110.2 223.9Z" fill="#f3e9c1" stroke="#000" stroke-width="0.9" stroke-linejoin="round"/>
<path d="M1150.9 135.7 L1155.3 135.0 L1160.3 138.8 L1162.2 143.2 L1161.6 150.1 L1157.8 152.6 L1155.3 148.2 L1153.4 143.8 L1152.2 140.0Z" fill="#f3e9c1" stroke="#000" stroke-width="0.9" stroke-linejoin="round"/>
<path d="M1398.0 291.3 L1409.3 288.8 L1420.5 287.6 L1430.6 290.1 L1434.3 282.6 L1435.6 276.3 L1441.8 275.0 L1442.6 267.0 L1451.8 268.0 L1453.1 277.5 L1464.4 281.3 L1471.9 287.6 L1478.1 292.6 L1478.1 306.3 L1468.1 308.8 L1460.6 311.4 L1465.6 315.1 L1459.4 318.9 L1455.6 313.9 L1451.8 322.6 L1449.3 327.6 L1440.6 330.6 L1433.1 326.4 L1434.3 317.6 L1431.8 313.9 L1434.3 306.3 L1430.6 298.8 L1423.0 296.3 L1409.3 300.1Z" fill="#f3e9c1" stroke="#000" stroke-width="0.9" stroke-linejoin="round"/>
<path d="M1382.5 360.2 L1389.2 361.4 L1390.5 355.7 L1398.0 358.2 L1403.0 369.7 L1406.0 360.2 L1411.8 356.4 L1412.5 351.4 L1416.0 352.7 L1416.8 360.2 L1420.5 358.2 L1418.5 348.9 L1433.1 345.2 L1441.1 337.6 L1446.8 346.4 L1450.6 343.9 L1455.6 346.4 L1460.6 340.2 L1469.4 341.4 L1478.1 342.7 L1478.1 380.2 L1470.6 382.7 L1469.4 389.0 L1463.1 390.2 L1461.9 395.2 L1455.6 395.2 L1454.3 402.8 L1448.1 400.3 L1439.3 399.0 L1433.1 401.5 L1419.3 407.8 L1416.8 420.3 L1411.8 437.8 L1400.5 450.3 L1394.2 441.6 L1398.0 436.6 L1400.5 426.5 L1405.5 421.5 L1408.0 424.0 L1413.0 414.0 L1408.0 410.3 L1400.5 407.8 L1396.8 397.7 L1391.7 399.0 L1383.0 394.0 L1384.2 387.7 L1388.0 386.5 L1391.7 381.5 L1396.8 379.0 L1393.0 372.7 L1388.0 366.4 L1383.0 363.9Z" fill="#f3e9c1" stroke="#000" stroke-width="0.9" stroke-linejoin="round"/>
<path d="M500.3 545.2 L510.3 539.0 L526.6 536.0 L527.3 541.5 L519.1 542.7 L510.3 553.3Z" fill="#f3e9c1" stroke="#000" stroke-width="0.9" stroke-linejoin="round"/>
<path d="M1000.5 530.2 L1004.3 531.5 L1006.0 539.0 L999.3 541.5 L999.3 552.8 L998.0 562.8 L991.7 575.3 L988.0 587.8 L984.2 600.3 L981.7 607.9 L975.5 620.4 L971.7 635.4 L965.4 652.9 L960.4 668.0 L957.9 680.5 L952.9 693.0 L947.9 700.5 L944.2 699.3 L946.7 675.5 L942.4 665.4 L942.4 655.4 L946.7 642.9 L951.7 627.9 L957.9 612.9 L965.4 601.6 L970.5 600.3 L975.5 587.8 L983.0 570.3 L986.7 555.3 L990.5 542.7 L996.8 532.7Z" fill="#f3e9c1" stroke="#000" stroke-width="0.9" stroke-linejoin="round"/>
<path d="M1127.6 448.2 L1135.2 446.3 L1138.9 460.1 L1142.7 446.9 L1150.2 445.7 L1156.4 447.5 L1162.1 461.3 L1157.1 463.2 L1154.6 469.5 L1151.4 470.7 L1151.4 476.3 L1147.7 478.2 L1144.6 477.0 L1139.5 475.1 L1139.5 486.4 L1136.4 492.6 L1140.2 496.4 L1140.5 501.4 L1135.2 509.5 L1137.7 513.3 L1138.3 518.3 L1141.4 519.5 L1146.4 518.3 L1149.6 522.0 L1146.4 527.7 L1143.9 526.4 L1135.2 531.4 L1132.0 537.1 L1128.3 540.8 L1132.7 545.8 L1130.2 552.1 L1120.8 554.0 L1117.6 557.7 L1106.4 564.6 L1111.4 567.1 L1102.6 572.8 L1101.4 580.3 L1106.4 585.9 L1103.9 588.4 L1098.8 594.0 L1090.1 599.1 L1084.5 598.4 L1090.1 581.5 L1096.3 578.4 L1098.2 570.9 L1093.8 575.9 L1089.5 574.0 L1092.0 569.6 L1090.7 565.2 L1087.0 562.1 L1087.6 557.7 L1085.7 550.2 L1081.9 545.8 L1081.9 543.3 L1087.0 538.3 L1087.6 530.8 L1089.5 527.7 L1085.7 525.2 L1083.2 520.2 L1082.6 505.8 L1101.4 483.9 L1110.7 463.2 L1122.0 458.2 L1123.9 451.9Z" fill="#f3e9c1" stroke="#000" stroke-width="0.9" stroke-linejoin="round"/>
<path d="M1157.7 446.9 L1161.5 445.0 L1162.1 440.0 L1169.6 435.7 L1174.6 435.7 L1174.0 438.8 L1180.2 437.5 L1183.7 440.7 L1179.0 444.4 L1174.6 443.8 L1169.0 446.9 L1167.7 449.4 L1168.3 453.2 L1164.0 459.4 L1160.8 455.1Z" fill="#f3e9c1" stroke="#000" stroke-width="0.9" stroke-linejoin="round"/>
<path d="M615.8 711.5 L622.7 715.7 L631.5 718.2 L641.5 724.4 L642.1 726.9 L637.1 733.8 L633.7 741.9 L635.9 746.3 L640.3 767.6 L639.6 771.4 L642.1 777.6 L646.5 788.9 L639.0 795.2 L634.0 792.0 L631.5 786.4 L633.4 783.3 L630.2 787.6 L623.4 786.4 L614.0 793.9 L609.0 800.2 L607.7 806.4 L609.6 810.8 L616.5 815.8 L621.5 817.1 L626.5 822.1 L628.4 830.2 L624.0 835.2 L617.7 839.0 L609.0 842.7 L600.2 849.0 L598.9 853.0 L599.2 855.3 L604.2 857.8 L605.4 862.8 L601.7 865.3 L602.9 872.9 L600.4 874.1 L581.7 873.6 L576.6 865.3 L574.1 860.3 L575.4 852.8 L575.1 852.1 L570.1 849.0 L566.4 844.6 L561.4 847.1 L552.6 845.2 L545.1 842.7 L537.6 845.9 L532.6 844.0 L530.1 839.0 L528.8 832.7 L520.7 826.5 L517.5 822.1 L522.6 819.6 L527.6 815.2 L526.3 808.9 L521.9 800.2 L517.5 800.8 L516.9 798.3 L521.3 797.0 L523.2 792.7 L520.1 785.8 L513.8 781.4 L504.4 778.6 L512.5 779.5 L517.5 778.3 L513.2 772.0 L506.3 770.1 L499.4 767.6 L506.3 766.4 L515.0 768.2 L521.3 766.4 L527.6 766.4 L533.2 767.0 L539.5 763.9 L540.7 760.1 L539.5 754.5 L546.3 753.2 L551.4 750.1 L553.2 745.7 L551.4 740.7 L540.1 737.6 L533.8 733.8 L532.6 729.4 L537.6 733.2 L545.1 736.3 L552.6 738.2 L557.6 736.3 L562.0 738.2 L567.6 736.9 L574.5 733.8 L573.3 736.3 L572.6 740.1 L568.3 741.9 L568.9 743.8 L565.8 745.1 L568.9 758.2 L563.9 758.8 L560.7 762.0 L570.1 758.8 L571.4 765.1 L570.1 768.2 L563.2 770.1 L572.6 766.4 L575.8 775.1 L573.3 778.9 L575.1 779.5 L576.4 777.6 L580.2 772.6 L579.5 770.1 L579.5 762.6 L581.4 758.8 L586.4 755.1 L586.4 750.1 L583.3 740.1 L578.3 735.7 L582.7 731.3 L592.7 723.8 L606.4 714.4Z" fill="#f3e9c1" stroke="#000" stroke-width="0.9" stroke-linejoin="round"/>
<path d="M455.1 784.4 L471.4 796.3 L470.2 801.3 L470.8 804.4 L465.8 806.9 L465.2 810.7 L469.5 810.1 L470.2 806.3 L478.9 805.0 L480.2 798.8 L475.8 800.7 L478.9 797.5 L477.1 785.0 L480.8 784.4 L490.8 805.0 L483.9 809.4 L476.4 809.4 L476.4 812.6 L478.9 810.1 L483.9 809.4 L492.1 822.6 L499.6 831.3 L496.5 833.2 L493.3 830.7 L495.2 835.1 L496.5 843.9 L494.0 855.1 L490.8 863.3 L482.7 865.1 L477.7 867.0 L471.4 869.5 L465.2 868.3 L460.2 865.8 L457.6 866.4 L448.9 860.8 L447.0 865.1 L440.1 862.0 L435.7 862.6 L437.6 858.3 L443.9 854.5 L440.7 848.2 L437.6 847.6 L435.1 850.1 L432.6 855.8 L428.8 855.1 L428.2 843.9 L420.7 838.2 L420.1 824.5 L412.6 820.1 L415.7 816.3 L412.6 812.6 L406.9 806.9 L411.3 809.4 L415.1 810.7 L407.6 805.0 L411.3 802.5 L410.1 796.3 L417.6 795.0 L420.1 800.0 L425.1 800.0Z" fill="#f3e9c1" stroke="#000" stroke-width="0.9" stroke-linejoin="round"/>
<path d="M506.5 850.1 L507.7 852.0 L505.2 861.4 L500.2 875.2 L495.2 890.2 L492.1 902.7 L489.0 910.2 L485.8 912.7 L483.3 909.0 L484.6 904.0 L478.3 896.4 L482.1 895.2 L483.3 890.2 L487.7 888.9 L485.2 886.4 L487.7 881.4 L495.2 873.3 L499.0 862.6 L502.7 853.9Z" fill="#f3e9c1" stroke="#000" stroke-width="0.9" stroke-linejoin="round"/>
<path d="M512.8 882.9 L520.3 879.1 L531.6 878.4 L540.3 885.4 L547.9 894.1 L556.6 897.9 L557.9 892.9 L562.9 891.6 L561.6 886.6 L566.6 885.4 L570.4 891.6 L574.1 897.9 L580.4 910.4 L579.2 917.9 L575.4 922.9 L560.4 920.4 L540.3 915.4 L520.3 910.4 L510.8 906.7 L510.8 899.2 L516.5 897.9 L512.8 890.4Z" fill="#f3e9c1" stroke="#000" stroke-width="0.9" stroke-linejoin="round"/>
<path d="M475.2 730.1 L479.0 737.6 L485.2 742.6 L482.7 757.7 L479.0 764.7 L472.7 762.7 L471.5 752.7 L476.5 745.1 L471.5 737.6Z" fill="#f3e9c1" stroke="#000" stroke-width="0.9" stroke-linejoin="round"/>
<path d="M401.9 863.3 L411.3 861.4 L419.5 867.6 L430.1 874.5 L432.6 880.2 L436.4 890.2 L431.4 892.7 L425.1 893.3 L420.1 890.2 L422.6 887.1 L428.2 890.8 L420.1 886.4 L412.6 888.3 L411.3 883.9 L413.8 880.2 L417.6 881.4 L415.7 876.4 L411.9 873.3 L408.8 873.9 L403.8 871.4 L401.3 867.6Z" fill="#f3e9c1" stroke="#000" stroke-width="0.9" stroke-linejoin="round"/>
<path d="M814.7 830.8 L820.2 839.1 L830.2 844.1 L844.0 852.8 L846.0 859.1 L842.7 867.9 L839.0 874.9 L830.2 871.6 L817.7 865.3 L806.4 859.6 L808.9 850.3 L810.2 839.1Z" fill="#f3e9c1" stroke="#000" stroke-width="0.9" stroke-linejoin="round"/>
<path d="M511.5 941.4 L517.8 937.6 L526.6 940.1 L531.6 946.4 L536.6 956.4 L526.6 955.1 L520.3 958.1 L516.5 959.6 L517.8 951.4 L511.5 950.1Z" fill="#f3e9c1" stroke="#000" stroke-width="0.9" stroke-linejoin="round"/>
<path d="M706.4 916.3 L707.1 920.7 L703.3 924.4 L704.6 929.4 L706.4 931.3 L713.3 930.7 L723.3 930.1 L726.5 933.2 L727.1 938.8 L723.3 943.2 L718.3 947.6 L719.6 952.6 L722.1 955.7 L725.8 955.7 L730.2 960.1 L734.0 964.5 L730.8 970.1 L730.2 975.1 L727.7 973.2 L727.1 969.5 L724.6 972.0 L723.3 968.2 L720.8 968.9 L724.0 965.1 L720.2 964.5 L713.3 965.1 L708.9 967.6 L705.2 972.6 L702.7 974.5 L705.8 976.4 L706.4 979.5 L703.3 981.4 L698.9 979.5 L695.2 977.6 L688.9 975.1 L683.9 972.0 L681.4 967.6 L681.4 961.4 L691.4 960.7 L690.2 956.3 L683.3 953.8 L685.1 950.1 L692.0 946.3 L690.2 941.9 L686.4 941.9 L683.3 936.3 L685.1 934.4 L688.9 923.2 L692.0 919.4Z" fill="#f3e9c1" stroke="#000" stroke-width="0.9" stroke-linejoin="round"/>
<path d="M567.5 881.4 L571.3 878.8 L576.3 880.1 L577.6 877.6 L581.3 878.8 L582.6 882.6 L586.3 881.4 L590.1 883.2 L591.3 886.4 L600.1 888.2 L605.1 896.4 L600.1 902.6 L590.1 915.2 L589.5 935.2 L585.1 933.3 L580.1 922.7 L581.9 916.4 L578.8 911.4 L576.9 913.3 L576.3 910.2 L580.1 907.6 L575.1 900.1 L573.8 895.1 L570.7 891.4 L570.1 886.4Z" fill="#f3e9c1" stroke="#000" stroke-width="0.9" stroke-linejoin="round"/>
<path d="M600.1 883.9 L601.4 880.1 L610.1 876.3 L615.1 875.7 L613.9 870.1 L609.5 867.0 L612.0 864.5 L616.4 868.2 L627.6 869.5 L632.7 872.0 L635.8 877.0 L635.2 881.4 L627.6 879.5 L620.1 878.8 L613.9 882.0 L608.2 890.1 L602.6 890.7 L600.1 887.6Z" fill="#f3e9c1" stroke="#000" stroke-width="0.9" stroke-linejoin="round"/>
<path d="M1461.0 123.1 L1463.5 123.8 L1465.3 127.5 L1470.4 124.4 L1472.9 123.8 L1475.4 126.9 L1480.4 127.5 L1480.4 133.8 L1472.9 137.5 L1467.9 136.9 L1465.3 131.3 L1462.2 127.5Z" fill="#f3e9c1" stroke="#000" stroke-width="0.9" stroke-linejoin="round"/>
<path d="M1467.2 153.2 L1471.0 148.2 L1480.4 146.9 L1480.4 150.7 L1471.6 151.9Z" fill="#f3e9c1" stroke="#000" stroke-width="0.9" stroke-linejoin="round"/>
<path d="M1246.7 122.5 L1253.4 122.5 L1252.9 125.5 L1249.9 128.0Z" fill="#f3e9c1" stroke="#000" stroke-width="0.9" stroke-linejoin="round"/>
<path d="M583.9 738.2 L590.2 736.3 L593.9 738.8 L596.4 747.6 L595.8 752.6 L597.7 758.8 L600.2 768.9 L597.7 773.9 L597.1 780.1 L595.2 776.4 L592.7 775.1 L590.2 773.2 L586.4 778.9 L588.9 772.6 L591.4 768.9 L596.4 772.0 L597.7 768.2 L595.2 758.8 L592.7 751.3 L590.2 742.6 L586.4 739.4 L583.9 740.1Z" fill="#fff" stroke="#000" stroke-width="0.9" stroke-linejoin="round"/>
<path d="M689.5 931.3 L692.0 925.0 L693.3 924.4 L692.0 930.7 L690.8 934.4 L686.4 935.1Z" fill="#fff" stroke="#000" stroke-width="0.9" stroke-linejoin="round"/>
<path d="M692.7 935.1 L701.4 929.4 L702.7 931.3 L695.2 936.9Z" fill="#fff" stroke="#000" stroke-width="0.9" stroke-linejoin="round"/>
<path d="M702.7 932.6 L706.4 934.4 L711.4 935.7 L712.7 942.6 L711.4 946.3 L708.9 943.8 L705.2 937.6 L702.0 933.8Z" fill="#fff" stroke="#000" stroke-width="0.9" stroke-linejoin="round"/>
<path d="M710.8 947.6 L713.9 947.0 L714.6 950.7 L711.4 951.3Z" fill="#fff" stroke="#000" stroke-width="0.9" stroke-linejoin="round"/>
<path d="M443.9 123.3 L450.2 126.3 L455.2 133.8 L453.9 138.8 L451.4 131.3Z" fill="#fff"/>
<path d="M577.9 207.7 L579.9 215.2 L582.4 220.2 L589.2 216.4 L584.2 221.4 L581.7 230.2 L586.7 242.7 L592.9 247.7 L605.4 262.7 L608.0 272.8 L605.4 280.3 L604.2 275.3 L602.9 265.3 L591.7 251.5 L584.2 245.2 L577.9 228.9Z" fill="#fff"/>
<path d="M569.1 226.4 L576.6 237.7 L579.2 232.7 L580.4 245.2 L581.7 255.2 L580.4 265.3 L582.9 277.8 L584.2 292.8 L580.4 282.8 L577.9 277.8 L576.6 265.3 L577.9 255.2 L575.4 240.2Z" fill="#fff"/>
<path d="M599.2 223.2 L601.7 223.9 L602.9 242.7 L609.2 250.2 L614.2 247.7 L615.5 241.5 L616.7 246.5 L620.5 240.2 L618.0 262.7 L616.7 254.0 L609.2 256.5 L602.9 250.2 L600.4 245.2Z" fill="#fff"/>
<path d="M684.2 225.2 L686.7 231.4 L691.7 232.7 L690.4 227.7 L701.7 223.9 L706.7 225.2 L724.2 217.7 L726.7 221.4 L733.0 220.2 L731.7 228.9 L740.5 226.4 L741.8 231.4 L748.0 227.7 L749.3 232.7 L755.5 230.2 L757.5 232.7 L756.8 246.5 L746.8 266.5 L749.3 272.8 L756.8 270.3 L758.0 264.5 L760.5 272.8 L756.8 279.0 L750.5 281.5 L748.0 307.8 L743.0 311.6 L740.5 320.3 L726.7 332.9 L723.0 330.4 L713.0 335.4 L710.5 332.9 L701.7 339.1 L699.2 341.6 L691.7 357.4 L682.9 357.4 L681.7 352.9 L686.7 341.6 L670.4 342.9 L667.9 349.1 L661.6 347.9 L666.6 351.6 L664.1 359.2 L646.6 366.7 L644.1 372.9 L636.6 380.4 L632.8 377.9 L640.3 370.4 L641.1 364.2 L634.1 375.4 L616.6 377.4 L615.3 371.7 L622.8 362.9 L629.1 361.7 L641.6 337.9 L632.8 332.9 L630.3 325.4 L632.8 315.3 L627.8 317.3 L624.1 312.8 L626.6 307.8 L630.3 310.3 L630.8 296.6 L625.3 289.0 L626.6 287.8 L632.8 294.8 L633.3 309.1 L637.8 309.1 L641.6 300.3 L642.8 287.8 L647.9 277.8 L646.6 272.8 L650.4 274.0 L656.6 267.3 L661.6 269.0 L661.6 272.8 L671.6 275.3 L676.7 280.3 L676.7 286.5 L681.7 295.3 L686.7 297.8 L691.7 295.8 L686.7 265.3 L681.7 255.2 L681.2 241.5 L677.9 239.0 L681.7 235.2Z" fill="#fff"/>
<path d="M851.5 237.2 L867.0 240.2 L878.2 230.7 L898.3 239.0 L900.0 232.7 L902.0 239.0 L917.1 240.2 L945.9 232.2 L947.1 234.7 L907.0 249.0 L902.0 257.7 L888.3 259.0 L879.5 252.7 L884.5 249.0 L877.0 245.2 L875.7 240.2 L867.0 242.7Z" fill="#fff"/>
<path d="M917.1 205.7 L924.6 206.4 L933.3 202.6 L934.6 206.4 L939.6 203.9 L944.6 206.4 L950.9 200.1 L954.6 201.4 L958.4 197.6 L954.6 188.9 L958.4 186.4 L963.4 190.1 L968.4 197.6 L973.4 196.4 L979.7 190.1 L987.2 191.4 L989.7 196.4 L999.7 196.4 L995.9 188.9 L998.5 187.6 L1004.7 195.1 L1013.5 197.6 L1014.7 205.2 L1023.8 208.9 L1026.3 206.4 L1023.8 197.6 L1022.5 183.9 L1026.3 181.4 L1030.1 190.1 L1033.8 197.6 L1037.6 195.1 L1038.8 201.4 L1043.8 202.6 L1050.1 200.1 L1057.6 201.4 L1061.4 192.6 L1058.8 187.6 L1053.8 185.1 L1052.6 178.9 L1050.1 182.6 L1041.3 175.1 L1043.8 168.8 L1036.3 168.8 L1032.6 175.1 L1035.1 166.3 L1027.5 165.1 L1041.3 163.8 L1042.6 156.3 L1046.3 157.1 L1045.1 165.1 L1047.6 167.6 L1045.1 173.8 L1053.8 181.4 L1056.3 186.4 L1061.4 190.1 L1060.1 200.1 L1056.3 207.7 L1053.8 213.9 L1058.8 220.2 L1070.1 228.9 L1073.9 227.7 L1072.6 232.7 L1065.1 239.0 L1063.9 242.7 L1053.8 237.7 L1043.8 237.7 L1033.8 232.7 L1023.8 231.4 L1021.3 240.2 L1011.3 241.5 L1016.3 237.7 L1015.0 232.7 L1017.5 228.9 L1009.7 222.7 L998.5 223.9 L994.7 220.2 L984.7 210.2 L978.4 206.4 L970.9 203.9 L957.1 207.7 L947.1 211.4 L939.6 210.2 L920.8 212.7Z" fill="#fff"/>
<path d="M760.5 286.5 L770.6 281.5 L764.3 275.3 L774.3 275.3 L778.8 270.8 L781.8 285.3 L773.1 295.8 L770.6 287.8Z" fill="#fff"/>
<path d="M779.3 310.3 L789.3 306.6 L791.9 309.1 L794.4 305.3 L790.6 329.1 L785.6 327.4 L786.8 319.1 L782.3 318.3Z" fill="#fff"/>
<path d="M825.7 301.6 L831.9 306.6 L828.2 309.1 L825.7 332.9 L821.4 346.6 L828.2 347.9 L830.7 355.9 L821.9 365.4 L815.6 365.4 L804.4 377.9 L801.9 386.7 L798.1 400.5 L789.3 422.0 L792.7 422.5 L787.6 432.6 L777.6 446.3 L775.1 457.6 L773.9 465.1 L766.4 467.6 L762.6 456.3 L758.8 445.1 L763.9 437.6 L767.6 422.5 L774.3 393.0 L785.6 372.9 L788.1 362.9 L793.1 361.7 L794.4 341.6 L804.4 332.9 L814.4 322.9 L816.9 315.3 L824.4 309.1Z" fill="#fff"/>
<path d="M874.5 359.2 L880.8 352.4 L908.3 356.7 L888.3 360.4 L884.5 361.7 L880.0 367.4Z" fill="#fff"/>
<path d="M625.3 177.6 L629.1 175.9 L634.1 182.1 L637.8 181.4 L640.3 190.1 L647.9 193.9 L650.4 203.9 L659.1 222.7 L657.1 225.2 L650.4 211.4 L645.4 201.4 L640.3 198.9 L635.3 187.6 L630.3 182.6Z" fill="#fff"/>
<path d="M835.2 415.0 L836.5 425.0 L844.0 430.1 L847.7 425.0 L851.5 432.6 L860.3 433.8 L861.5 440.1 L857.8 441.3 L860.3 452.6 L854.0 442.6 L849.0 447.6 L842.7 441.3 L836.5 432.6 L832.7 426.3Z" fill="#fff"/>
<path d="M731.3 575.3 L737.6 579.1 L735.1 590.3 L731.3 602.8 L725.0 615.4 L723.8 620.4 L720.0 614.1 L722.5 605.3 L719.5 600.3 L723.8 587.8 L727.5 579.1Z" fill="#fff"/>
<path d="M799.7 621.6 L803.9 632.9 L808.9 626.6 L812.7 635.4 L819.0 636.6 L820.2 644.2 L815.2 644.2 L813.9 651.7 L808.9 647.9 L805.2 644.2 L801.4 637.9Z" fill="#fff"/>
<path d="M348.8 584.6 L359.1 581.6 L367.9 587.5 L375.2 583.1 L389.9 578.7 L392.8 580.2 L404.6 576.5 L413.4 571.4 L423.6 578.7 L416.3 580.9 L404.6 581.6 L400.2 587.5 L395.8 591.9 L395.0 595.6 L392.8 591.9 L395.0 588.2 L384.0 586.0 L375.2 586.8 L369.3 591.9 L364.9 597.8 L364.2 603.6 L366.4 608.0 L364.9 613.9 L368.6 622.7 L364.2 631.5 L371.5 630.8 L374.5 640.3 L373.7 649.1 L379.6 649.9 L380.4 653.5 L373.7 655.7 L370.1 647.7 L370.8 641.8 L363.5 637.4 L362.0 643.3 L358.3 646.2 L357.6 650.6 L355.4 649.1 L354.7 641.8 L362.0 628.6 L355.4 615.4 L348.8 616.1Z" fill="#fff"/>
<path d="M1363.0 1040.4 L1368.1 1044.1 L1375.6 1041.6 L1384.3 1039.1 L1383.1 1045.4 L1378.1 1047.9 L1378.1 1056.6 L1373.1 1052.9 L1365.5 1051.6 L1360.5 1054.1 L1361.8 1046.6Z" fill="#fff"/>
<path d="M491.0 294.8 L518.3 283.3 L520.8 272.3 L527.8 266.5" fill="none" stroke="#000" stroke-width="0.9" stroke-linejoin="round"/>
<path d="M773.4 1024.0 L775.3 1030.2 L779.1 1037.7 L774.7 1029.0" fill="none" stroke="#000" stroke-width="0.9" stroke-linejoin="round"/>
<path d="M732.7 987.6 L735.9 996.4 L734.6 1003.9 L732.7 1007.7 L739.0 1016.4 L745.9 1021.5 L740.2 1029.0 L737.7 1032.7 L741.5 1033.4" fill="none" stroke="#000" stroke-width="0.9" stroke-linejoin="round"/>
<path d="M811.6 1007.7 L807.9 1020.2 L802.8 1026.5 L799.1 1034.0" fill="none" stroke="#000" stroke-width="0.9" stroke-linejoin="round"/>
</g>
<rect x="348.75" y="121.8" width="1128.35" height="959.2" fill="none" stroke="#000" stroke-width="2.1"/>
<g font-size="24.4px">
<text x="420.9" y="373.7">0.1</text>
<text x="488.6" y="356.0">0.1</text>
<text x="558.7" y="385.5">1.37</text>
<text x="486.1" y="428.3">0.1</text>
<text x="536.1" y="445.6">0.1</text>
<text x="564.4" y="546.5">0.1</text>
<text x="620.0" y="583.7">0.34</text>
<text x="601.3" y="623.6">0.1</text>
<text x="652.1" y="740.6">0.1</text>
<text x="1262.5" y="289.8">0.1</text>
<text x="1094.0" y="334.1">0.1</text>
<text x="1073.2" y="422.5">0.1</text>
<text x="1237.3" y="425.8">0.1</text>
<text x="1048.2" y="557.8">0.1</text>
<text x="1202.1" y="629.0">0.23</text>
<text x="967.8" y="704.8">0.1</text>
<text x="860.6" y="809.5">0.1</text>
<text x="760.9" y="867.9">0.1</text>
<text x="1242.3" y="528.7">0.1</text>
<text x="822.8" y="776.5">0.1</text>
<text x="912.4" y="828.3">0.1</text>
<text x="1107.3" y="784.5">0.1</text>
<text x="708.9" y="861.4">0.1</text>
</g>
<g stroke="#000" stroke-width="2.2">
<circle cx="512.8" cy="383" r="14.65" fill="#fff7fb"/>
<circle cx="470.7" cy="391.7" r="14.65" fill="#fff7fb"/>
<circle cx="498.3" cy="390.2" r="14.65" fill="#fff7fb"/>
<circle cx="545.4" cy="395.5" r="14.65" fill="#014636"/>
<circle cx="534.1" cy="455.6" r="14.65" fill="#fff7fb"/>
<circle cx="563.6" cy="556.5" r="14.65" fill="#fff7fb"/>
<circle cx="608.5" cy="593.6" r="14.65" fill="#dddaea"/>
<circle cx="600.5" cy="633.7" r="14.65" fill="#fff7fb"/>
<circle cx="651.3" cy="750.2" r="14.65" fill="#fff7fb"/>
<circle cx="1261.6" cy="299.8" r="14.65" fill="#fff7fb"/>
<circle cx="1093.2" cy="344.2" r="14.65" fill="#fff7fb"/>
<circle cx="1072.6" cy="432.6" r="14.65" fill="#fff7fb"/>
<circle cx="1225.2" cy="435.3" r="14.65" fill="#fff7fb"/>
<circle cx="1047.4" cy="567.8" r="14.65" fill="#fff7fb"/>
<circle cx="1201.8" cy="639" r="14.65" fill="#f0e6f2"/>
<circle cx="956" cy="714.3" r="14.65" fill="#fff7fb"/>
<circle cx="859.5" cy="819" r="14.65" fill="#fff7fb"/>
<circle cx="760.1" cy="876.6" r="14.65" fill="#fff7fb"/>
<path d="M1227.0 524.2H1254.9L1240.9 552.9Z" fill="#fff7fb"/>
<path d="M807.9 770.9H835.9L821.9 799.6Z" fill="#fff7fb"/>
<path d="M897.6 823.5H925.6L911.6 852.2Z" fill="#fff7fb"/>
<path d="M1092.3 780.0H1120.2L1106.3 808.7Z" fill="#fff7fb"/>
<path d="M681.8 856.3H709.7L695.7 885.0Z" fill="#fff7fb"/>
<path d="M360.72 1142H388.62L374.67 1170.5Z" fill="#fff7fb"/>
<circle cx="780" cy="1156.8" r="14.65" fill="#014636"/>
<path d="M1149.85 1171.7H1177.75L1163.8 1143.4Z" fill="#fff"/>
</g>
<g font-size="33.33px" text-anchor="end">
<text x="338" y="289.8">59°N</text>
<text x="338" y="443.6">58°N</text>
<text x="338" y="593.6">57°N</text>
<text x="338" y="739.7">56°N</text>
<text x="338" y="881.7">55°N</text>
<text x="338" y="1020.3">54°N</text>
</g>
<g font-size="33.33px" text-anchor="middle">
<text x="349.9" y="1117.6">9°E</text>
<text x="510.8" y="1117.6">11°E</text>
<text x="671.8" y="1117.6">13°E</text>
<text x="832.7" y="1117.6">15°E</text>
<text x="993.6" y="1117.6">17°E</text>
<text x="1154.5" y="1117.6">19°E</text>
<text x="1315.5" y="1117.6">21°E</text>
</g>
<g font-size="41.67px" text-anchor="middle">
<text x="913" y="60.2">SMHI marine monitoring May 2025</text>
<text x="913" y="108.1">DIN in the surface water (0-10 m)</text>
</g>
<g font-size="33.33px">
<text x="434.6" y="1166.2">&lt; mean -1std*</text>
<text x="840.3" y="1166.2">mean ±1std*</text>
<text x="1223.8" y="1166.2">&gt; mean +1std*</text>
</g>
<rect x="1398" y="774.3" width="56" height="286.6" fill="url(#cb)" stroke="#000" stroke-width="3.9"/>
<path d="M1383.5 857.3H1396M1383.5 970H1396" stroke="#000" stroke-width="4"/>
<g font-size="25px">
<text x="1328.3" y="866.5">1.0</text>
<text x="1328.3" y="979.2">0.5</text>
<text x="1376.6" y="749">[µmol/l]</text>
</g>
</svg>
</body></html>
